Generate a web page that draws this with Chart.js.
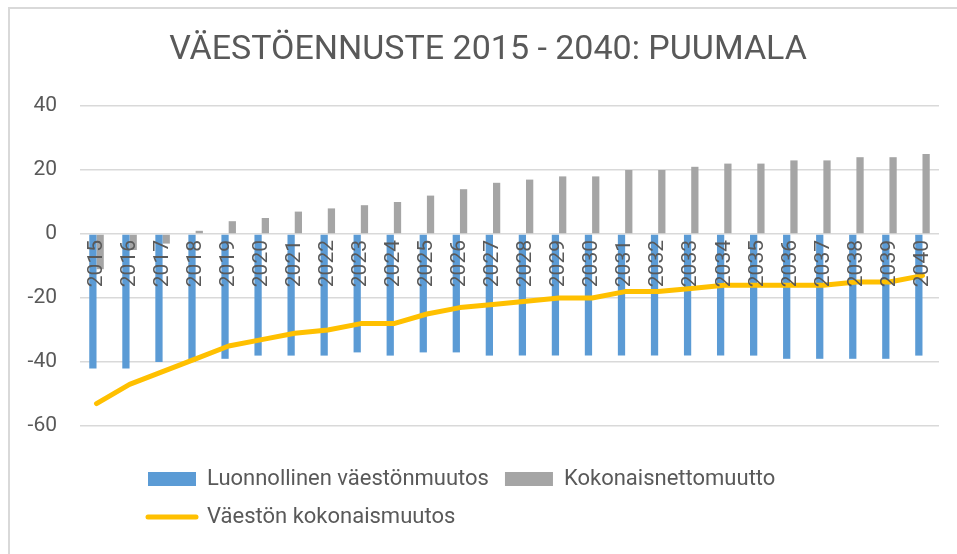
<!DOCTYPE html>
<html>
<head>
<meta charset="utf-8">
<script src="https://cdn.jsdelivr.net/npm/chart.js@4/dist/chart.umd.min.js"></script>
<style>
  html, body { margin: 0; padding: 0; background: #ffffff; }
  #wrap { position: relative; width: 957px; height: 554px; overflow: hidden; }
  #frame { position: absolute; left: 8px; top: 7px; width: 1000px; height: 600px;
           border-left: 2px solid #d9d9d9; border-top: 2px solid #d9d9d9; }
  #box { position: absolute; left: 0; top: 0; width: 957px; height: 554px; }
</style>
</head>
<body>
<div id="wrap">
  <div id="frame"></div>
  <div id="box"><canvas id="c"></canvas></div>
</div>
<script>
const titleText = 'VÄESTÖENNUSTE 2015 - 2040: PUUMALA';
const years = ['2015','2016','2017','2018','2019','2020','2021','2022','2023','2024','2025','2026','2027',
               '2028','2029','2030','2031','2032','2033','2034','2035','2036','2037','2038','2039','2040'];
const seriesNames = ['Luonnollinen väestönmuutos', 'Kokonaisnettomuutto', 'Väestön kokonaismuutos'];
const naturalChange = [-42,-42,-40,-40,-39,-38,-38,-38,-37,-38,-37,-37,-38,-38,-38,-38,-38,-38,-38,-38,-38,-39,-39,-39,-39,-38];
const netMigration  = [-11,-5,-3,1,4,5,7,8,9,10,12,14,16,17,18,18,20,20,21,22,22,23,23,24,24,25];
const totalChange   = [-53,-47,-43,-39,-35,-33,-31,-30,-28,-28,-25,-23,-22,-21,-20,-20,-18,-18,-17,-16,-16,-16,-16,-15,-15,-13];
const yMin = -60, yMax = 40, yStep = 20;

const BLUE = '#5B9BD5', GRAY = '#A5A5A5', YELLOW = '#FFC000', TEXT = '#595959', GRID = '#d9d9d9';

Chart.defaults.font.family = 'Roboto';

const legendPlace = {
  id: 'legendPlace',
  afterLayout(chart) {
    const l = chart.legend;
    if (!l) return;
    l.left = 132;
    l.top += 26;
    l.bottom += 26;
  }
};

new Chart(document.getElementById('c'), {
  type: 'bar',
  data: {
    labels: years,
    datasets: [
      { label: seriesNames[0], data: naturalChange, backgroundColor: BLUE, borderWidth: 0,
        categoryPercentage: 0.44, barPercentage: 1.0, order: 1 },
      { label: seriesNames[1], data: netMigration, backgroundColor: GRAY, borderWidth: 0,
        categoryPercentage: 0.44, barPercentage: 1.0, order: 1 },
      { type: 'line', label: seriesNames[2], data: totalChange, borderColor: YELLOW, backgroundColor: YELLOW,
        borderWidth: 5, pointRadius: 0, tension: 0, borderJoinStyle: 'round', borderCapStyle: 'round',
        fill: false, order: 0 }
    ]
  },
  options: {
    responsive: true,
    maintainAspectRatio: false,
    animation: false,
    layout: { padding: { top: 0, right: 0, bottom: 42, left: 19 } },
    plugins: {
      tooltip: { enabled: false },
      title: {
        display: true, text: titleText, color: TEXT,
        font: { family: 'Roboto', size: 34, weight: 'normal' },
        padding: { top: 30, bottom: 35.2 }
      },
      legend: {
        position: 'bottom', align: 'start',
        labels: {
          color: TEXT, font: { family: 'Roboto', size: 22 },
          usePointStyle: true, pointStyleWidth: 48, boxHeight: 14, padding: 16,
          sort: (a, b) => a.datasetIndex - b.datasetIndex,
          generateLabels(chart) {
            const items = Chart.defaults.plugins.legend.labels.generateLabels(chart);
            items.forEach((it) => {
              if (it.datasetIndex === 2) {
                it.pointStyle = 'line'; it.lineWidth = 5; it.strokeStyle = YELLOW; it.lineCap = 'round';
              } else {
                it.pointStyle = 'rect'; it.lineWidth = 0;
              }
            });
            return items;
          }
        }
      }
    },
    scales: {
      x: {
        position: { y: 0 },
        grid: { display: false, drawTicks: false },
        border: { display: false },
        ticks: { minRotation: 90, maxRotation: 90, padding: 6, autoSkip: false, color: TEXT,
                 font: { family: 'Roboto', size: 21 }, z: 1 },
        afterFit(s) { s.height = 0; }
      },
      y: {
        min: yMin, max: yMax,
        ticks: { stepSize: yStep, padding: 23, color: TEXT, font: { family: 'Roboto', size: 21 } },
        grid: { color: GRID, lineWidth: 1.5, drawTicks: false },
        border: { display: false },
        afterFit(s) { s.width = 61; }
      },
      yRight: {
        type: 'linear', position: 'right', display: true,
        ticks: { display: false }, grid: { display: false, drawTicks: false }, border: { display: false },
        afterFit(s) { s.width = 18; }
      }
    }
  },
  plugins: [legendPlace]
});
</script>
</body>
</html>
